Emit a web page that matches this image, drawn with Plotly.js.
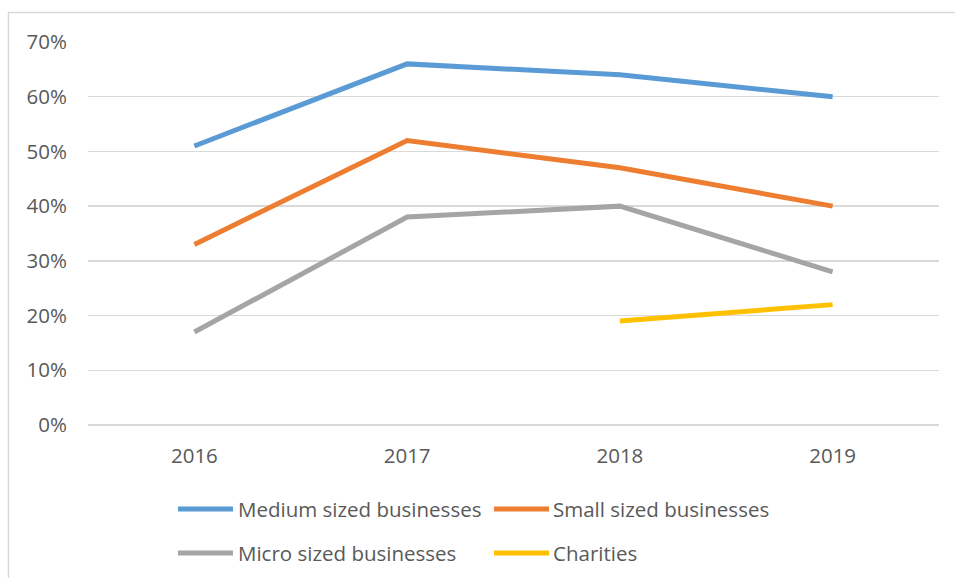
<!DOCTYPE html>
<html>
<head>
<meta charset="utf-8">
<script src="https://cdn.plot.ly/plotly-3.0.1.min.js"></script>
<style>html,body{margin:0;padding:0;background:#fff;}#chart{width:955px;height:578px;}</style>
</head>
<body>
<div id="chart"></div>
<script>
const years = ['2016', '2017', '2018', '2019'];
const medium = [0.51, 0.66, 0.64, 0.60];
const small = [0.33, 0.52, 0.47, 0.40];
const micro = [0.17, 0.38, 0.40, 0.28];
const charities = [null, null, 0.19, 0.22];
const seriesNames = ['Medium sized businesses', 'Small sized businesses', 'Micro sized businesses', 'Charities'];
const seriesColors = ['#5B9BD5', '#ED7D31', '#A5A5A5', '#FFC000'];
const yTickVals = [0, 0.1, 0.2, 0.3, 0.4, 0.5, 0.6, 0.7];

const W = 955, H = 578, ML = 88, MR = 16, MT = 42, MB = 153;
const PW = W - ML - MR, PH = H - MT - MB;
const px2x = p => (p - ML) / PW;
const px2y = p => (H - MB - p) / PH;

const allValues = [medium, small, micro, charities];
const traces = allValues.map((v, i) => ({
  type: 'scatter', mode: 'lines', x: years, y: v, name: seriesNames[i],
  line: {color: seriesColors[i], width: 5}, connectgaps: false, showlegend: false
}));

const font = {family: '"Open Sans", sans-serif', size: 20.5, color: '#595959'};
const legFont = {family: '"Open Sans", sans-serif', size: 20.5, color: '#595959'};

// custom legend: 2 columns x 2 rows
const legCols = [{line0: 178, line1: 233, text: 238}, {line0: 494, line1: 549, text: 553}];
const legRows = [509, 553];
const shapes = [{type: 'rect', xref: 'paper', yref: 'paper', x0: px2x(8.5), x1: 1.2, y0: -1, y1: px2y(12.5),
  line: {color: '#d9d9d9', width: 1.5}, fillcolor: 'rgba(0,0,0,0)', layer: 'below'}];
const annotations = [];
seriesNames.forEach((name, i) => {
  const c = legCols[i % 2], r = legRows[Math.floor(i / 2)];
  shapes.push({type: 'line', xref: 'paper', yref: 'paper', x0: px2x(c.line0), x1: px2x(c.line1), y0: px2y(r), y1: px2y(r),
    line: {color: seriesColors[i], width: 5}});
  annotations.push({xref: 'paper', yref: 'paper', x: px2x(c.text), y: px2y(r), xanchor: 'left', yanchor: 'middle',
    text: name, showarrow: false, font: legFont, xshift: -2, yshift: 0});
});

const layout = {
  width: W, height: H,
  margin: {l: ML, r: MR, t: MT, b: MB},
  paper_bgcolor: '#fff', plot_bgcolor: '#fff',
  font: font,
  showlegend: false,
  xaxis: {type: 'category', range: [-0.5, 3.5], showgrid: false, zeroline: false, showline: false,
    ticks: '', tickfont: font, ticklabelstandoff: 16, fixedrange: true},
  yaxis: {range: [0, 0.7], tickvals: yTickVals, tickformat: '.0%', showgrid: true, gridcolor: '#d9d9d9', gridwidth: 1.5,
    zeroline: true, zerolinecolor: '#d9d9d9', zerolinewidth: 1.5, showline: false, ticks: '', tickfont: font,
    ticklabelstandoff: 20, fixedrange: true},
  shapes: shapes,
  annotations: annotations
};

Plotly.newPlot('chart', traces, layout, {displayModeBar: false, staticPlot: true});
</script>
</body>
</html>
